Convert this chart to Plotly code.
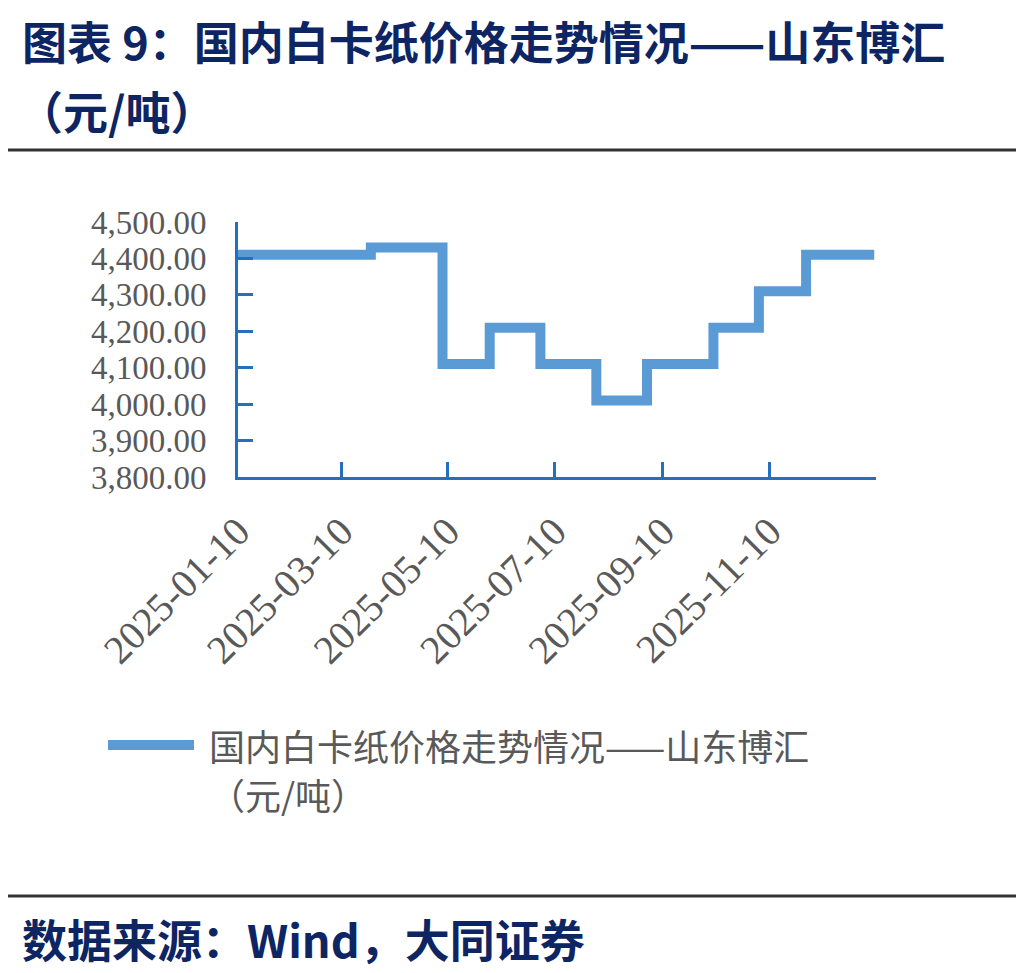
import plotly.graph_objects as go

# price change points (元/吨), step line
change_dates = ['2025-01-10', '2025-03-27', '2025-05-07', '2025-06-03', '2025-07-02',
                '2025-08-03', '2025-09-01', '2025-10-09', '2025-11-04', '2025-12-01',
                '2026-01-09']
prices = [4410, 4430, 4110, 4210, 4110, 4010, 4110, 4210, 4310, 4410, 4410]

tick_dates = ['2025-01-10', '2025-03-10', '2025-05-10', '2025-07-10', '2025-09-10',
              '2025-11-10', '2026-01-10']
tick_labels = ['2025-01-10', '2025-03-10', '2025-05-10', '2025-07-10', '2025-09-10',
               '2025-11-10', '']

title_text = '图表 9：国内白卡纸价格走势情况——山东博汇'
title_unit = '（元/吨）'
series_name = '国内白卡纸价格走势情况——山东博汇'
source_text = '数据来源：Wind，大同证券'

# page body has an 8px margin, so the figure is drawn 8px smaller and shifted
OFF = 8
W, H = 1024 - OFF, 973 - OFF
L, T = 238 - OFF, 222 - OFF
R, B = W - (876 - OFF), H - (477 - OFF)
NAVY = '#0E2564'
BLUE = '#5B9BD5'
AXIS = '#2270BF'
GREY = '#595959'
CJK = 'Noto Sans CJK SC'


def px_x(x):
    return (x - OFF - L) / (W - L - R)


def px_y(y):
    return (H - B - (y - OFF)) / (H - T - B)


fig = go.Figure()
fig.add_trace(go.Scatter(
    x=change_dates,
    y=prices,
    mode='lines',
    line=dict(shape='hv', color=BLUE, width=10),
    name=series_name,
    showlegend=False,
))

fig.update_xaxes(
    type='date',
    range=['2025-01-10', '2026-01-10'],
    tickvals=tick_dates,
    ticktext=tick_labels,
    tickangle=-45,
    ticks='inside', ticklen=15, tickwidth=3, tickcolor=AXIS,
    showline=True, linecolor=AXIS, linewidth=3,
    showgrid=False, zeroline=False,
    tickfont=dict(family='Liberation Serif', size=40, color=GREY),
    ticklabelstandoff=12,
)
fig.update_yaxes(
    range=[3800, 4500],
    dtick=100,
    tickformat=',.2f',
    ticks='inside', ticklen=15, tickwidth=3, tickcolor=AXIS,
    showline=True, linecolor=AXIS, linewidth=3,
    showgrid=False, zeroline=False,
    tickfont=dict(family='Liberation Serif', size=33, color=GREY),
    ticklabelstandoff=22,
)

annos = [
    dict(text='<b>' + title_text + '</b>', x=px_x(20), y=px_y(40),
         font=dict(family=CJK, size=45, color=NAVY)),
    dict(text='<b>' + title_unit + '</b>', x=px_x(16), y=px_y(110),
         font=dict(family=CJK, size=45, color=NAVY)),
    dict(text=series_name, x=px_x(207), y=px_y(745),
         font=dict(family=CJK, size=36, color=GREY)),
    dict(text=title_unit, x=px_x(207), y=px_y(794),
         font=dict(family=CJK, size=36, color=GREY)),
    dict(text='<b>' + source_text + '</b>', x=px_x(20), y=px_y(938),
         font=dict(family=CJK, size=45, color=NAVY)),
]
for a in annos:
    fig.add_annotation(xref='paper', yref='paper', xanchor='left', yanchor='middle',
                       showarrow=False, **a)

fig.add_shape(type='line', xref='paper', yref='paper', x0=px_x(0), x1=px_x(1024),
              y0=px_y(150), y1=px_y(150), line=dict(color='#333333', width=3))
fig.add_shape(type='line', xref='paper', yref='paper', x0=px_x(0), x1=px_x(1024),
              y0=px_y(896), y1=px_y(896), line=dict(color='#333333', width=3))
fig.add_shape(type='line', xref='paper', yref='paper', x0=px_x(108), x1=px_x(194),
              y0=px_y(745), y1=px_y(745), line=dict(color=BLUE, width=10))

fig.update_layout(
    width=W, height=H,
    autosize=False,
    margin=dict(l=L, r=R, t=T, b=B),
    paper_bgcolor='white',
    plot_bgcolor='white',
    showlegend=False,
)

fig.write_html('out.html')
